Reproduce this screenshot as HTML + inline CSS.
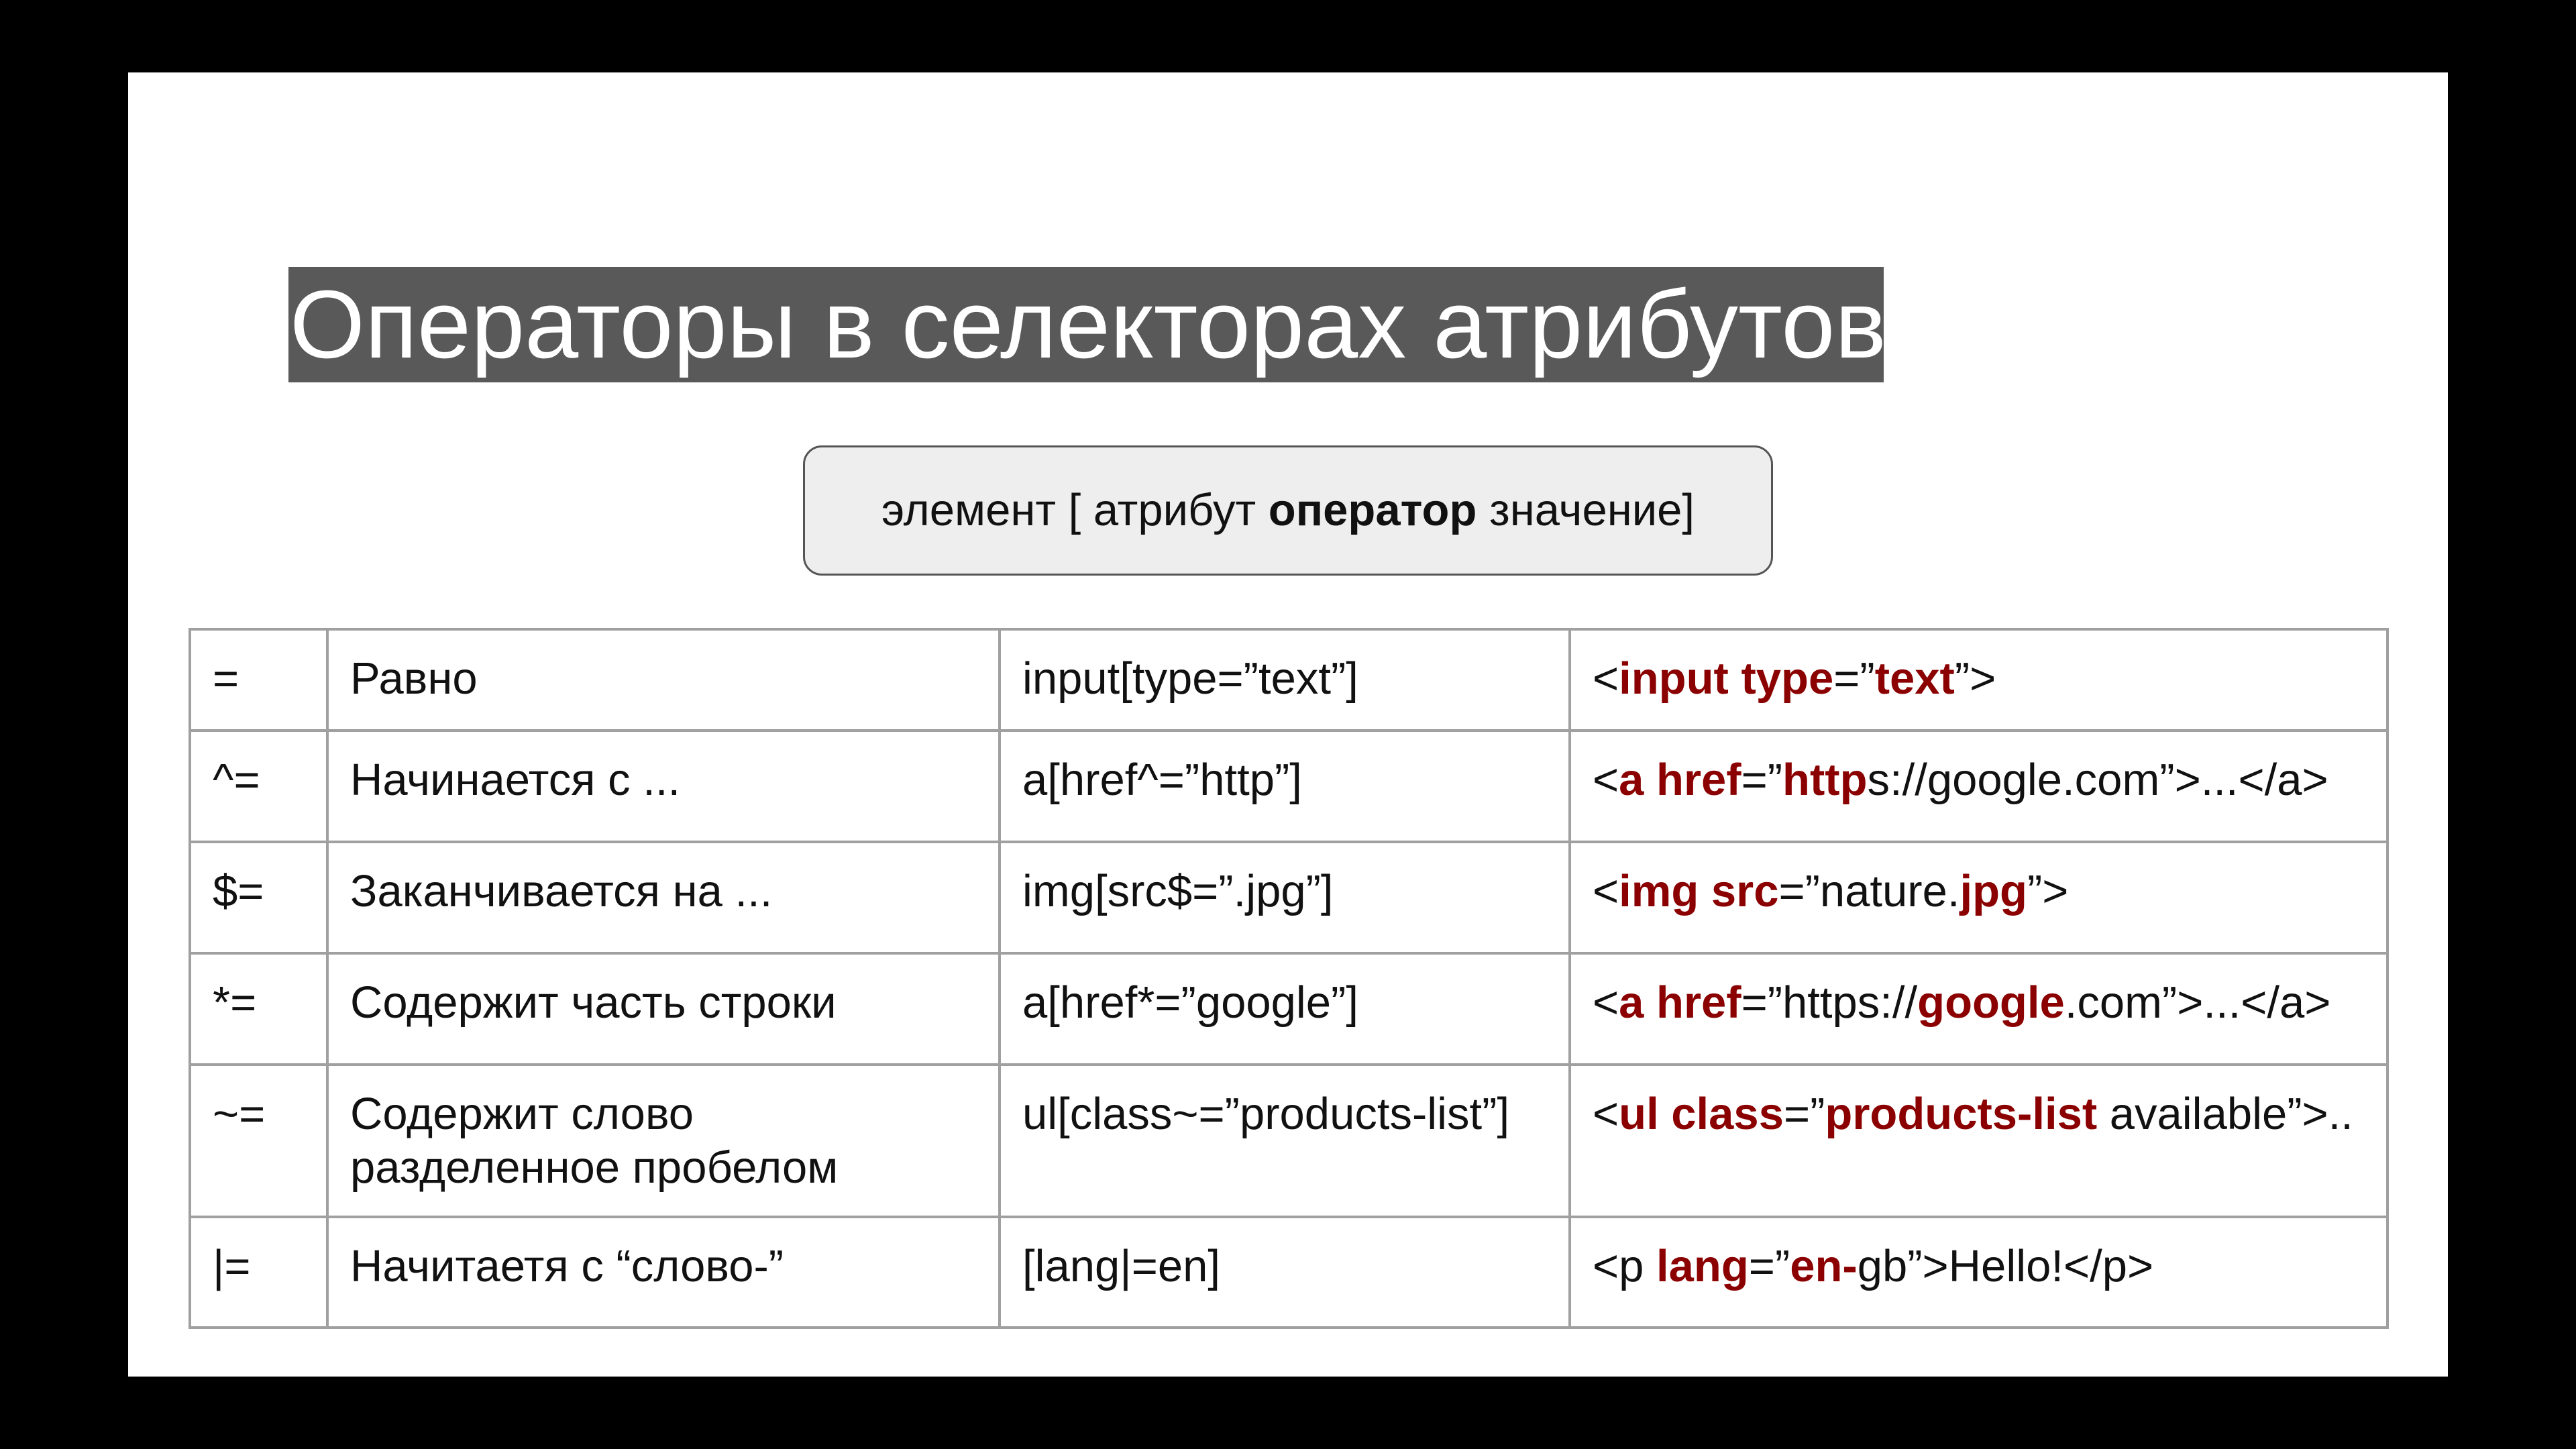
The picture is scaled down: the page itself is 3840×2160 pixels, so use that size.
<!DOCTYPE html>
<html><head><meta charset="utf-8"><style>
html,body{margin:0;padding:0;}
body{width:3840px;height:2160px;background:#000;position:relative;overflow:hidden;font-family:"Liberation Sans",Arial,sans-serif;}
#slide{position:absolute;left:191px;top:108px;width:3458px;height:1944px;background:#fff;}
#title{position:absolute;left:430px;top:398px;width:2378px;height:172px;background:#595959;color:#fff;font-size:144px;line-height:172px;white-space:nowrap;overflow:hidden;text-indent:2px;}
#box{position:absolute;left:1197px;top:664px;width:1440px;height:188px;border:3px solid #555;border-radius:28px;background:#eeeeee;font-size:67px;line-height:188px;text-align:center;color:#111;box-sizing:content-box;}
table{position:absolute;left:281px;top:936px;border-collapse:collapse;table-layout:fixed;font-size:67px;color:#111;}
td{border:4px solid #a0a0a0;vertical-align:top;padding:32px 32px 0 32px;line-height:80px;white-space:nowrap;overflow:hidden;}
.r{color:#8b0000;font-weight:bold;}
</style></head><body>
<div id="slide"></div>
<div id="title">Операторы в селекторах атрибутов</div>
<div id="box">элемент [ атрибут <b>оператор</b> значение]</div>
<table>
<colgroup><col style="width:205px"><col style="width:1002px"><col style="width:850px"><col style="width:1219px"></colgroup>
<tr style="height:151px"><td>=</td><td>Равно</td><td>input[type=”text”]</td><td>&lt;<span class="r">input type</span>=”<span class="r">text</span>”&gt;</td></tr>
<tr style="height:166px"><td>^=</td><td>Начинается с ...</td><td>a[href^=”http”]</td><td>&lt;<span class="r">a href</span>=”<span class="r">http</span>s://google.com”&gt;...&lt;/a&gt;</td></tr>
<tr style="height:166px"><td>$=</td><td>Заканчивается на ...</td><td>img[src$=”.jpg”]</td><td>&lt;<span class="r">img src</span>=”nature.<span class="r">jpg</span>”&gt;</td></tr>
<tr style="height:166px"><td>*=</td><td>Содержит часть строки</td><td>a[href*=”google”]</td><td>&lt;<span class="r">a href</span>=”https://<span class="r">google</span>.com”&gt;...&lt;/a&gt;</td></tr>
<tr style="height:227px"><td>~=</td><td>Содержит слово<br>разделенное пробелом</td><td>ul[class~=”products-list”]</td><td>&lt;<span class="r">ul class</span>=”<span class="r">products-list</span> available”&gt;..</td></tr>
<tr style="height:165px"><td>|=</td><td>Начитаетя с “слово-”</td><td>[lang|=en]</td><td>&lt;p <span class="r">lang</span>=”<span class="r">en-</span>gb”&gt;Hello!&lt;/p&gt;</td></tr>
</table>
</body></html>
